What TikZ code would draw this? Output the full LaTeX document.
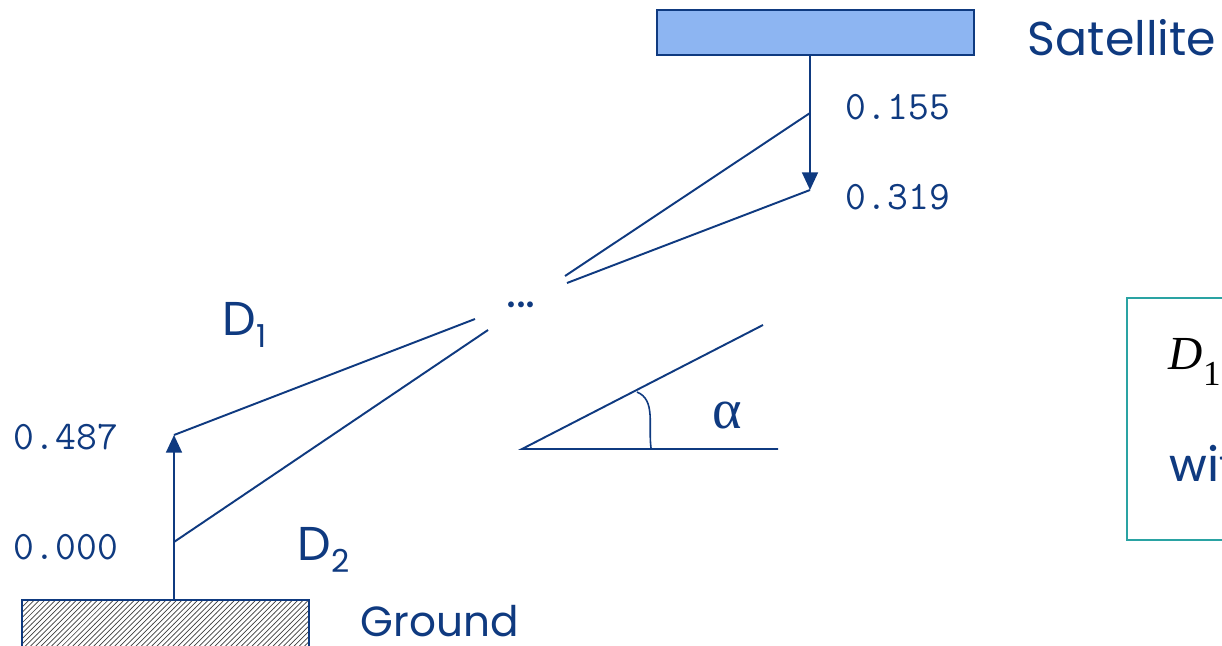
\documentclass[tikz,border=0pt]{standalone}
\usepackage{fontspec}
\setmainfont{Liberation Sans}
\newfontfamily\comicf{Poppins}
\newfontfamily\seriff{Liberation Serif}
\newfontfamily\calf{Carlito}
\usetikzlibrary{arrows.meta,patterns}
\definecolor{navy}{HTML}{0F3A80}
\definecolor{satfill}{HTML}{8DB5F2}
\definecolor{tealb}{HTML}{2AA3A3}
\begin{document}
\begin{tikzpicture}[x=0.02cm,y=-0.02cm,line width=1.1pt,
  ln/.style={navy,line width=1.1pt},
  arr/.style={ln,-{Triangle[width=9pt,length=10pt]}},
  lbl/.style={text=navy,font=\comicf\fontsize{27}{30}\selectfont,inner sep=0pt},
  num/.style={text=navy,font=\ttfamily\fontsize{23}{25}\selectfont,inner sep=0pt,anchor=west},
  box/.style={draw=navy,line width=1pt,inner sep=0pt}]
\clip (0,0) rectangle (1222,645);
\fill[white] (0,0) rectangle (1222,645);
% satellite
\node[box,fill=satfill,minimum width=6.34cm,minimum height=0.9cm] (sat) at (815.5,32.5) {};
\node[lbl,anchor=west] (satl) at (1027,38) {Satellite};
% ground
\node[box,pattern=north east lines,pattern color=gray!50!black,minimum width=5.74cm,minimum height=1.0cm] (gnd) at (165.5,625) {};
\node[lbl,anchor=west,font=\comicf\fontsize{24}{26}\selectfont] (gndl) at (360,621) {Ground};
% coordinates
\coordinate (sa) at (810,55);
\coordinate (s1) at (810,113);
\coordinate (s2) at (810,190);
\coordinate (m1) at (565,276);
\coordinate (m2) at (567,283);
\coordinate (m3) at (475,319);
\coordinate (m4) at (488,330);
\coordinate (g1) at (174,435);
\coordinate (g0) at (174,542);
\coordinate (ga) at (174,600);
% arrows
\draw[arr] (sa) -- (s2);
\draw[arr] (ga) -- (g1);
\draw[ln] (s1) -- (m1);
\draw[ln] (s2) -- (m2);
\draw[ln] (m3) -- (g1);
\draw[ln] (m4) -- (g0);
% numbers
\node[num] (n155) at (845,107) {0.155};
\node[num] (n319) at (845,197) {0.319};
\node[num] (n487) at (13,437) {0.487};
\node[num] (n000) at (13,547) {0.000};
% labels
\node[lbl,anchor=west] (d1) at (222,325) {D\raisebox{-0.45ex}{\fontsize{18}{20}\selectfont 1}};
\node[lbl,anchor=west] (d2) at (297,550) {D\raisebox{-0.45ex}{\fontsize{18}{20}\selectfont 2}};
\node[lbl] (dots) at (521,305) {...};
% angle
\coordinate (a0) at (522,449);
\coordinate (a1) at (778,449);
\coordinate (a2) at (763,325);
\draw[ln] (a1) -- (a0) -- (a2);
\coordinate (c1) at (637,392);
\coordinate (c2) at (651,448);
\draw[navy,line width=0.9pt] (c1) .. controls (656,400) and (648,425) .. (c2);
\node[text=navy,font=\seriff\fontsize{32}{34}\selectfont,inner sep=0pt] (alpha) at (727,416) {α};
% right box
\node[draw=tealb,line width=1.2pt,minimum width=4cm,minimum height=4.84cm,anchor=north west,inner sep=0pt] (rbox) at (1126,297) {};
\node[font=\seriff\itshape\fontsize{27}{30}\selectfont,inner sep=0pt,anchor=west] (rd) at (1168,362) {D\raisebox{-0.7ex}{\upshape\fontsize{20}{22}\selectfont 1}};
\node[text=navy,font=\calf\fontsize{30}{32}\selectfont,inner sep=0pt,anchor=west] (rw) at (1169,463) {with};
\end{tikzpicture}
\end{document}
